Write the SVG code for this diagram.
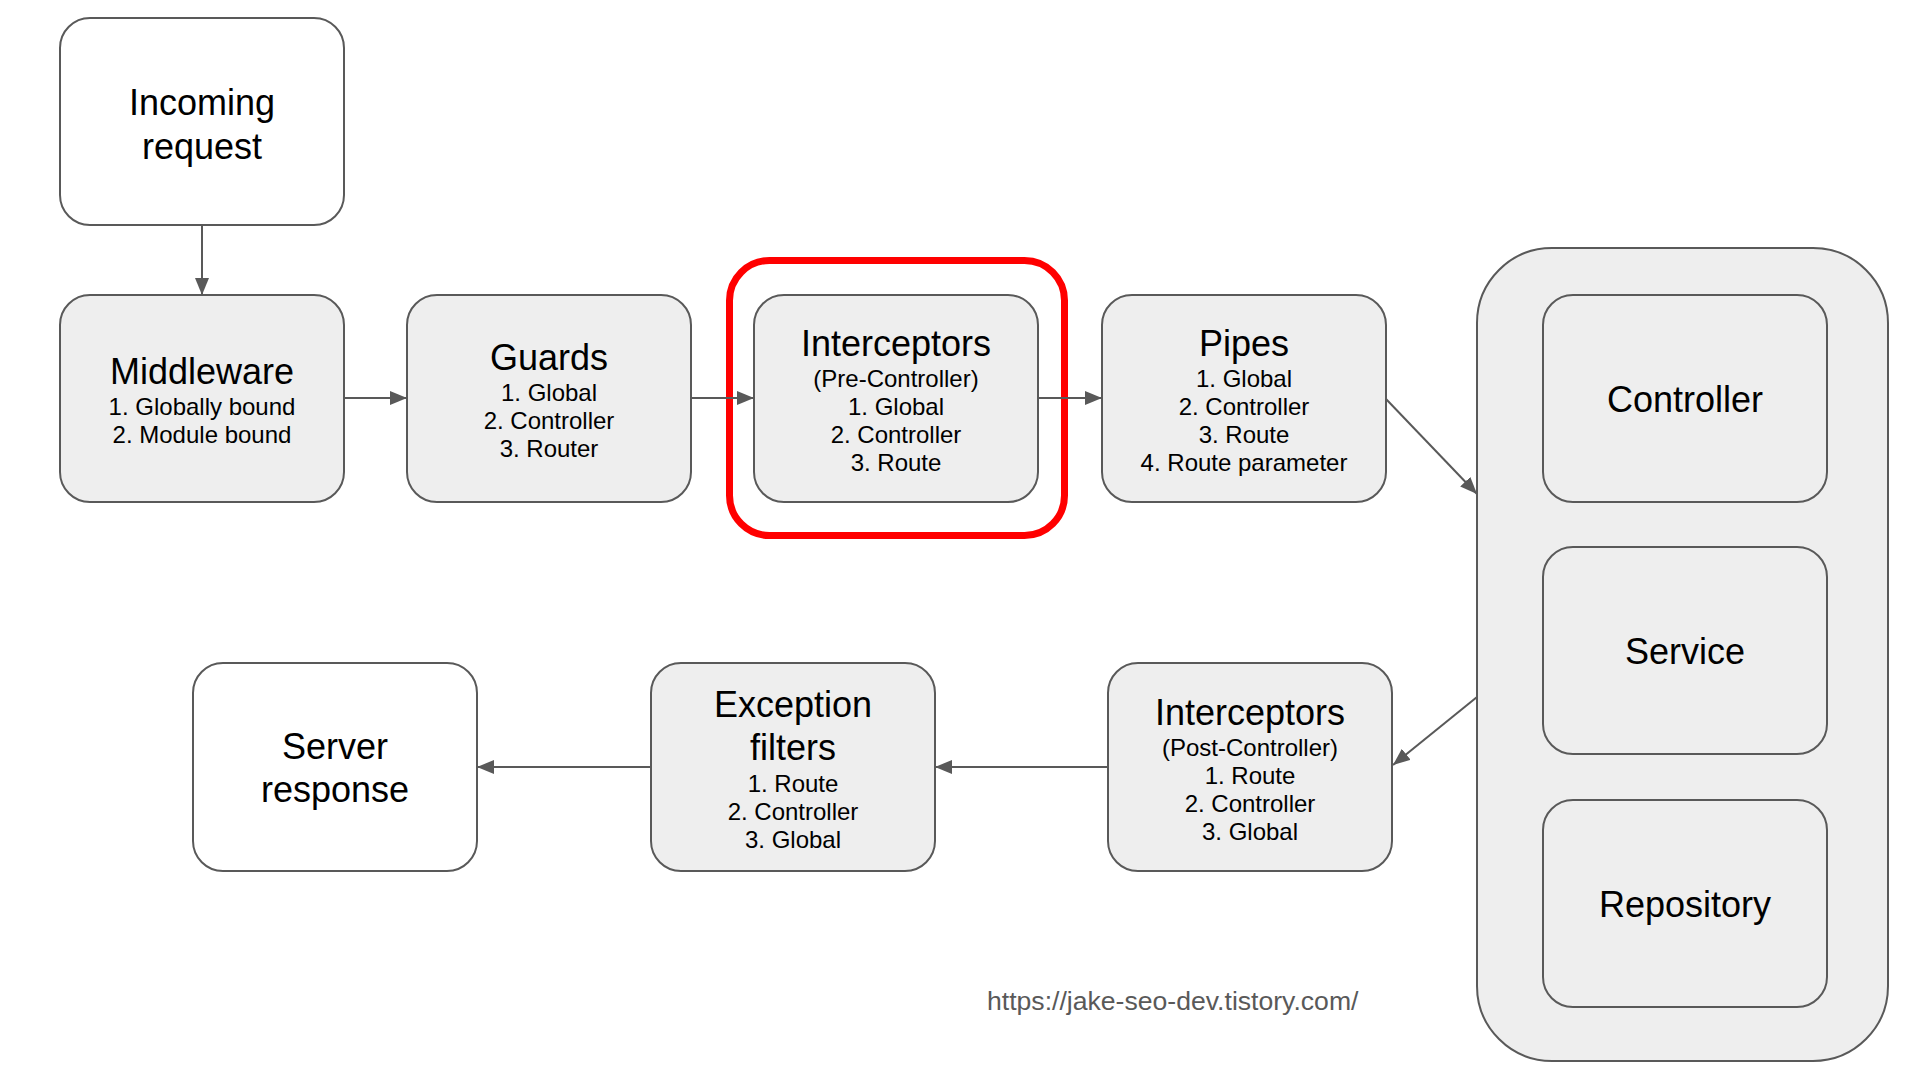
<svg xmlns="http://www.w3.org/2000/svg" width="1920" height="1078" viewBox="0 0 1920 1078">
  <defs>
    <style>
      .box { fill: #eeeeee; stroke: #595959; stroke-width: 2; }
      .wbox { fill: #ffffff; stroke: #595959; stroke-width: 2; }
      .title { font-family: "Liberation Sans", Arial, sans-serif; font-size: 36px; fill: #000000; text-anchor: middle; }
      .sub { font-family: "Liberation Sans", Arial, sans-serif; font-size: 24px; fill: #000000; text-anchor: middle; }
      .conn { stroke: #595959; stroke-width: 2; fill: none; marker-end: url(#arrow); }
      .url { font-family: "Liberation Sans", Arial, sans-serif; font-size: 26.6px; fill: #595959; }
    </style>
    <marker id="arrow" markerUnits="userSpaceOnUse" markerWidth="18" markerHeight="14" refX="17" refY="7" orient="auto">
      <path d="M0,0 L17,7 L0,14 z" fill="#595959"/>
    </marker>
  </defs>
  <rect width="1920" height="1078" fill="#ffffff"/>

  <g id="incoming">
    <rect class="wbox" x="60" y="18" width="284" height="207" rx="30"/>
    <text class="title" x="202" y="115">Incoming</text>
    <text class="title" x="202" y="159">request</text>
  </g>

  <g id="middleware">
    <rect class="box" x="60" y="295" width="284" height="207" rx="30"/>
    <text class="title" x="202" y="384">Middleware</text>
    <text class="sub" x="202" y="415">1. Globally bound</text>
    <text class="sub" x="202" y="443">2. Module bound</text>
  </g>

  <g id="guards">
    <rect class="box" x="407" y="295" width="284" height="207" rx="30"/>
    <text class="title" x="549" y="370">Guards</text>
    <text class="sub" x="549" y="401">1. Global</text>
    <text class="sub" x="549" y="429">2. Controller</text>
    <text class="sub" x="549" y="457">3. Router</text>
  </g>

  <g id="interceptors-pre">
    <rect class="box" x="754" y="295" width="284" height="207" rx="30"/>
    <text class="title" x="896" y="356">Interceptors</text>
    <text class="sub" x="896" y="387">(Pre-Controller)</text>
    <text class="sub" x="896" y="415">1. Global</text>
    <text class="sub" x="896" y="443">2. Controller</text>
    <text class="sub" x="896" y="471">3. Route</text>
  </g>

  <g id="highlight">
    <rect x="729.5" y="260.5" width="335" height="275" rx="40" fill="none" stroke="#ff0000" stroke-width="7"/>
  </g>

  <g id="pipes">
    <rect class="box" x="1102" y="295" width="284" height="207" rx="30"/>
    <text class="title" x="1244" y="356">Pipes</text>
    <text class="sub" x="1244" y="387">1. Global</text>
    <text class="sub" x="1244" y="415">2. Controller</text>
    <text class="sub" x="1244" y="443">3. Route</text>
    <text class="sub" x="1244" y="471">4. Route parameter</text>
  </g>

  <g id="app-container">
    <rect class="box" x="1477" y="248" width="411" height="813" rx="75"/>
  </g>

  <g id="controller">
    <rect class="box" x="1543" y="295" width="284" height="207" rx="30"/>
    <text class="title" x="1685" y="412">Controller</text>
  </g>

  <g id="service">
    <rect class="box" x="1543" y="547" width="284" height="207" rx="30"/>
    <text class="title" x="1685" y="664">Service</text>
  </g>

  <g id="repository">
    <rect class="box" x="1543" y="800" width="284" height="207" rx="30"/>
    <text class="title" x="1685" y="917">Repository</text>
  </g>

  <g id="interceptors-post">
    <rect class="box" x="1108" y="663" width="284" height="208" rx="30"/>
    <text class="title" x="1250" y="725">Interceptors</text>
    <text class="sub" x="1250" y="756">(Post-Controller)</text>
    <text class="sub" x="1250" y="784">1. Route</text>
    <text class="sub" x="1250" y="812">2. Controller</text>
    <text class="sub" x="1250" y="840">3. Global</text>
  </g>

  <g id="exception-filters">
    <rect class="box" x="651" y="663" width="284" height="208" rx="30"/>
    <text class="title" x="793" y="717">Exception</text>
    <text class="title" x="793" y="760">filters</text>
    <text class="sub" x="793" y="792">1. Route</text>
    <text class="sub" x="793" y="820">2. Controller</text>
    <text class="sub" x="793" y="848">3. Global</text>
  </g>

  <g id="server-response">
    <rect class="wbox" x="193" y="663" width="284" height="208" rx="30"/>
    <text class="title" x="335" y="759">Server</text>
    <text class="title" x="335" y="802">response</text>
  </g>

  <g id="connectors">
    <line class="conn" x1="202" y1="225" x2="202" y2="295"/>
    <line class="conn" x1="344" y1="398" x2="407" y2="398"/>
    <line class="conn" x1="691" y1="398" x2="754" y2="398"/>
    <line class="conn" x1="1038" y1="398" x2="1102" y2="398"/>
    <line class="conn" x1="1386" y1="399" x2="1477" y2="494"/>
    <line class="conn" x1="1477" y1="697" x2="1393" y2="765"/>
    <line class="conn" x1="1108" y1="767" x2="935" y2="767"/>
    <line class="conn" x1="651" y1="767" x2="477" y2="767"/>
  </g>

  <text class="url" x="987" y="1010">https://jake-seo-dev.tistory.com/</text>
</svg>
